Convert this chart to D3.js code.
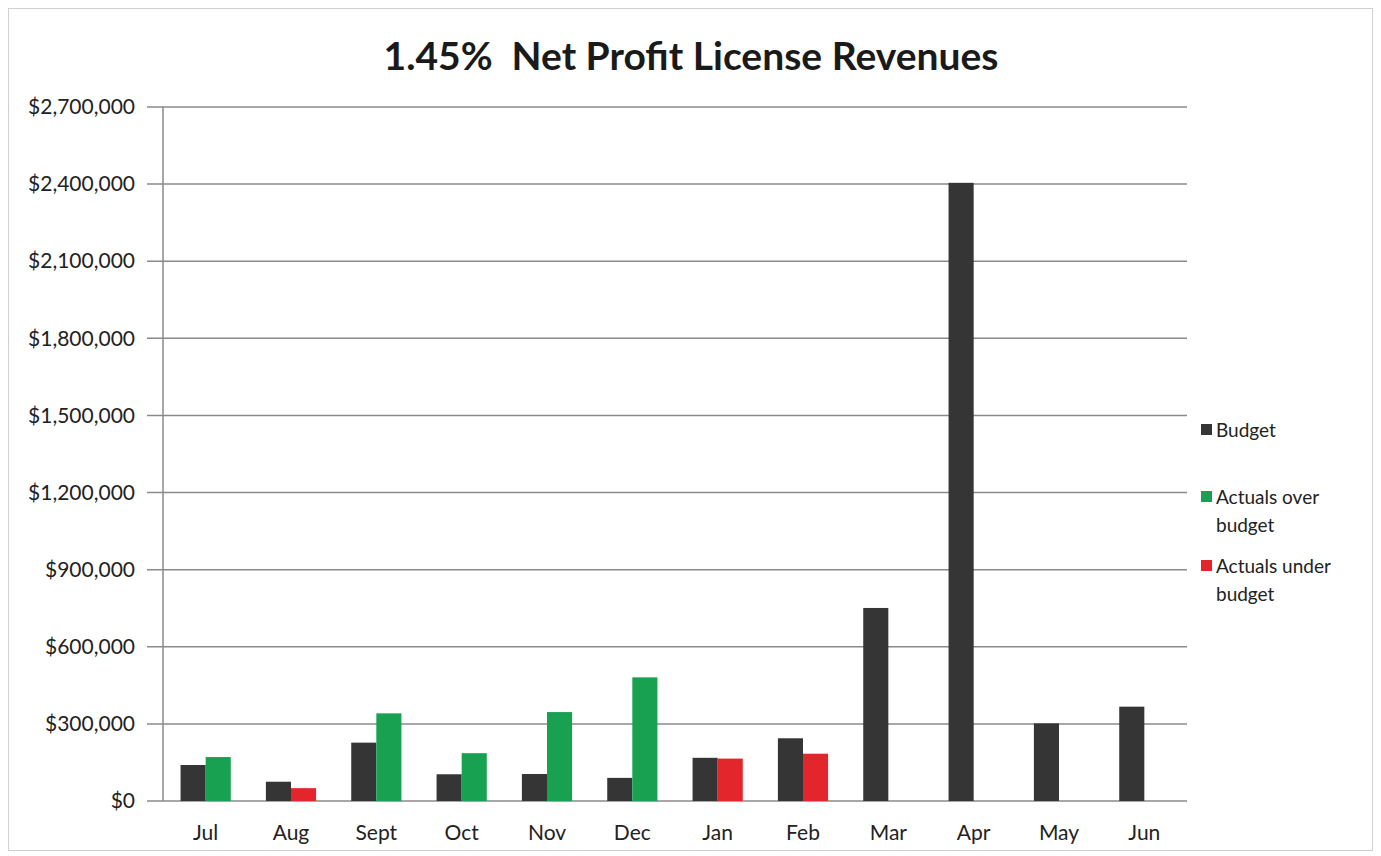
<!DOCTYPE html>
<html>
<head>
<meta charset="utf-8">
<script src="https://cdn.jsdelivr.net/npm/d3@7"></script>
<style>
  body { margin: 0; background: #fff; }
  svg { font-family: Lato, "Open Sans", sans-serif; }
</style>
</head>
<body>
<svg id="chart" width="1381" height="856"></svg>
<script>
const months = ["Jul", "Aug", "Sept", "Oct", "Nov", "Dec", "Jan", "Feb", "Mar", "Apr", "May", "Jun"];
const budget = [140000, 75000, 227000, 104000, 105000, 90000, 168000, 244000, 751000, 2405000, 302000, 367000];
const actualsOver = [171000, 0, 341000, 186000, 346000, 481000, 0, 0, 0, 0, 0, 0];
const actualsUnder = [0, 50000, 0, 0, 0, 0, 165000, 184000, 0, 0, 0, 0];
const yTicks = [0, 300000, 600000, 900000, 1200000, 1500000, 1800000, 2100000, 2400000, 2700000];
const legendItems = [
    { lines: ["Budget"], color: "#353535" },
    { lines: ["Actuals over", "budget"], color: "#17a150" },
    { lines: ["Actuals under", "budget"], color: "#e3262b" }
];

const svg = d3.select("#chart");
const margin = { top: 107, right: 194, bottom: 55, left: 163 };
const W = 1381, H = 856;

// frame
svg.append("rect")
    .attr("x", 8.5).attr("y", 8.5)
    .attr("width", W - 17).attr("height", H - 14)
    .attr("fill", "#fff")
    .attr("stroke", "#d0d0d0");

svg.append("text")
    .attr("x", 691).attr("y", 70)
    .attr("text-anchor", "middle")
    .attr("font-size", 39)
    .attr("font-weight", "bold")
    .attr("fill", "#1a1a1a")
    .style("white-space", "pre")
    .text("1.45%  Net Profit License Revenues");

const x = d3.scaleBand()
    .domain(months)
    .range([margin.left, W - margin.right]);

const xInner = d3.scaleBand()
    .domain(["budget", "actual"])
    .range([0, x.bandwidth()])
    .paddingOuter(0.7);

const y = d3.scaleLinear()
    .domain([0, 2700000])
    .range([H - margin.bottom, margin.top]);

// gridlines
svg.append("g")
    .selectAll("line")
    .data(yTicks)
    .join("line")
    .attr("x1", margin.left - 16)
    .attr("x2", W - margin.right)
    .attr("y1", d => y(d))
    .attr("y2", d => y(d))
    .attr("stroke", "#8a8a8a")
    .attr("stroke-width", 1.5);

// y axis labels
const fmt = d => "$" + d3.format(",")(d);
svg.append("g")
    .attr("transform", `translate(${margin.left}, 0)`)
    .call(d3.axisLeft(y).tickValues(yTicks).tickFormat(fmt).tickSize(0).tickPadding(28))
    .call(g => g.select(".domain").remove())
    .call(g => g.selectAll("text").attr("font-size", 21).attr("fill", "#222").attr("font-family", "Lato, sans-serif"));

svg.append("line")
    .attr("x1", margin.left).attr("x2", margin.left)
    .attr("y1", y(2700000)).attr("y2", y(0))
    .attr("stroke", "#8a8a8a")
    .attr("stroke-width", 1.5);

// bars
const groups = svg.append("g")
    .selectAll("g")
    .data(months)
    .join("g")
    .attr("transform", d => `translate(${x(d)}, 0)`);

groups.append("rect")
    .attr("x", xInner("budget"))
    .attr("width", xInner.bandwidth())
    .attr("y", (d, i) => y(budget[i]))
    .attr("height", (d, i) => y(0) - y(budget[i]))
    .attr("fill", legendItems[0].color);

groups.append("rect")
    .attr("x", xInner("actual"))
    .attr("width", xInner.bandwidth())
    .attr("y", (d, i) => y(actualsOver[i]))
    .attr("height", (d, i) => y(0) - y(actualsOver[i]))
    .attr("fill", legendItems[1].color);

groups.append("rect")
    .attr("x", xInner("actual"))
    .attr("width", xInner.bandwidth())
    .attr("y", (d, i) => y(actualsUnder[i]))
    .attr("height", (d, i) => y(0) - y(actualsUnder[i]))
    .attr("fill", legendItems[2].color);

// x axis labels
svg.append("g")
    .attr("transform", `translate(0, ${y(0)})`)
    .call(d3.axisBottom(x).tickSize(0).tickPadding(24))
    .call(g => g.select(".domain").remove())
    .call(g => g.selectAll("text").attr("font-size", 21).attr("fill", "#222").attr("font-family", "Lato, sans-serif"));

// legend
const legendY = [430, 497, 566];
const legend = svg.append("g")
    .selectAll("g")
    .data(legendItems)
    .join("g")
    .attr("transform", (d, i) => `translate(1201, ${legendY[i]})`);

legend.append("rect")
    .attr("x", 0).attr("y", -6)
    .attr("width", 11).attr("height", 11)
    .attr("fill", d => d.color);

legend.append("text")
    .attr("font-size", 19)
    .attr("fill", "#222")
    .selectAll("tspan")
    .data(d => d.lines)
    .join("tspan")
    .attr("x", 15)
    .attr("y", (d, i) => 7 + i * 28)
    .text(d => d);
</script>
</body>
</html>
